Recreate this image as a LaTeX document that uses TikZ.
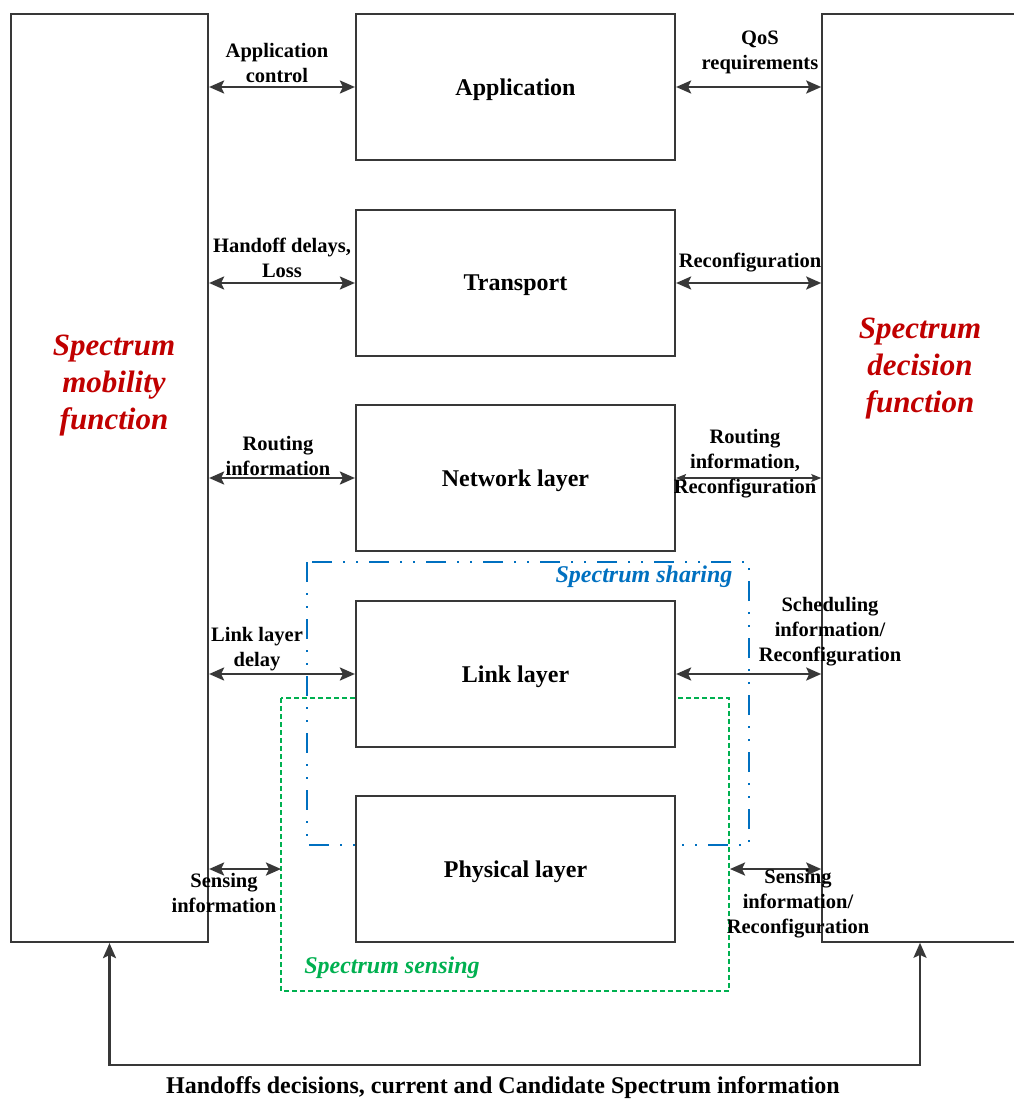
\documentclass[tikz,border=0pt]{standalone}
\usepackage{fontspec}
\setmainfont{Liberation Serif}
\usetikzlibrary{arrows.meta}
\definecolor{linegray}{HTML}{383838}
\definecolor{funcred}{HTML}{C00000}
\definecolor{shareblue}{HTML}{0070C0}
\definecolor{sensegreen}{HTML}{00B050}
\begin{document}
\begin{tikzpicture}[x=1pt, y=-1pt,
    layer/.style={draw=linegray, line width=2.2pt, fill=white, minimum width=319, minimum height=146, inner sep=0pt, text depth=0pt, font=\fontsize{24}{28}\selectfont\bfseries},
    func/.style={draw=linegray, line width=2.2pt, minimum width=197, minimum height=928, inner sep=0pt},
    functext/.style={align=center, text=funcred, font=\fontsize{31}{37}\selectfont\bfseries\itshape},
    lbl/.style={align=center, font=\fontsize{20.5}{25}\selectfont\bfseries},
    link/.style={draw=linegray, line width=2.5pt, {Stealth[length=15pt,width=13pt,inset=3pt]}-{Stealth[length=15pt,width=13pt,inset=3pt]}},
    thinlink/.style={draw=linegray, line width=1.2pt, {Stealth[length=10pt,width=8pt,inset=2pt]}-{Stealth[length=10pt,width=8pt,inset=2pt]}}]
	\useasboundingbox (0,0) rectangle (1013,1100);
	
	% Spectrum sharing and sensing areas
	\draw[shareblue, line width=2.2pt, dash pattern=on 20pt off 11pt on 2pt off 11pt on 2pt off 11pt] (307,562) rectangle (749,845);
	\draw[sensegreen, line width=2.5pt, dash pattern=on 5pt off 3pt] (281,698) rectangle (729,991);
	
	% Function blocks
	\node[func] (mob) at (109.5,478) {};
	\node[func, line width=1.6pt, minimum width=196] (dec) at (920,478) {};
	
	% Layers
	\node[layer] (app) at (515.5,87) {Application};
	\node[layer] (trans) at (515.5,283) {Transport};
	\node[layer] (net) at (515.5,478) {Network layer};
	\node[layer] (lnk) at (515.5,674) {Link layer};
	\node[layer] (phy) at (515.5,869) {Physical layer};
	
	% Coordinates on the sensing area
	\coordinate (sl) at (281,869);
	\coordinate (sr) at (730,869);
	
	% Arrows
	\draw[link] (mob.east |- app.west) -- (app.west);
	\draw[link] (app.east) -- (dec.west |- app.east);
	\draw[link] (mob.east |- trans.west) -- (trans.west);
	\draw[link] (trans.east) -- (dec.west |- trans.east);
	\draw[link] (mob.east |- net.west) -- (net.west);
	\draw[thinlink] (net.east) -- (dec.west |- net.east);
	\draw[link] (mob.east |- lnk.west) -- (lnk.west);
	\draw[link] (lnk.east) -- (dec.west |- lnk.east);
	\draw[link] (mob.east |- sl) -- (sl);
	\draw[link] (sr) -- (dec.west |- sr);
	\draw[link] (mob.south) -- ++(0,122) -| (dec.south);
	
	% Labels
	\node[functext] (mobtext) at (114,386) {Spectrum\\mobility\\function};
	\node[functext] (dectext) at (920,369) {Spectrum\\decision\\function};
	\node[lbl] (l1) at (277,63) {Application\\control};
	\node[lbl] (r1) at (760,52) {QoS\\requirements};
	\node[lbl] (l2) at (282,258) {Handoff delays,\\Loss};
	\node[lbl] (r2) at (750,263) {Reconfiguration};
	\node[lbl] (l3) at (278,456) {Routing\\information};
	\node[lbl] (r3) at (745,464) {Routing\\information,\\Reconfiguration};
	\node[lbl] (l4) at (257,649) {Link layer\\delay};
	\node[lbl] (r4) at (830,632) {Scheduling\\information/\\Reconfiguration};
	\node[lbl] (l5) at (224,893) {Sensing\\information};
	\node[lbl] (r5) at (798,904) {Sensing\\information/\\Reconfiguration};
	\node[text=shareblue, font=\fontsize{24}{28}\selectfont\bfseries\itshape] (share) at (644,577) {Spectrum sharing};
	\node[text=sensegreen, font=\fontsize{24}{28}\selectfont\bfseries\itshape] (sense) at (392,968) {Spectrum sensing};
	\node[font=\fontsize{24}{28}\selectfont\bfseries] (bottom) at (503,1088) {Handoffs decisions, current and Candidate Spectrum information};
\end{tikzpicture}
\end{document}
